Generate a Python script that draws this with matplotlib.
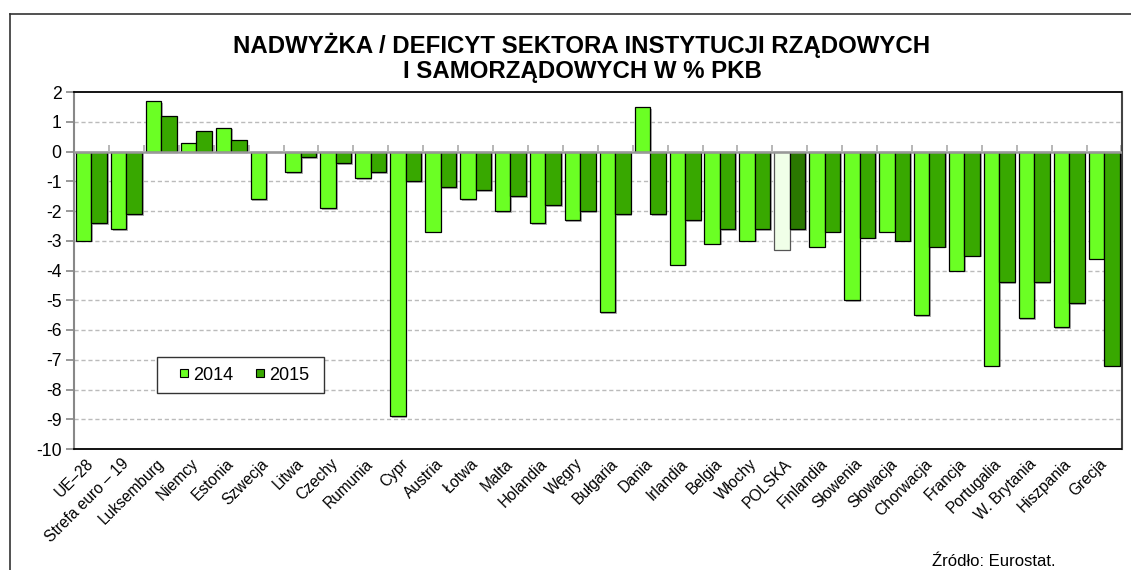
import matplotlib
matplotlib.use("Agg")
import matplotlib.pyplot as plt
import matplotlib.patheffects as pe
import numpy as np
from matplotlib.patches import Patch, Rectangle
from matplotlib.lines import Line2D
from matplotlib.legend_handler import HandlerPatch

plt.rcParams['font.family'] = ['Liberation Sans', 'DejaVu Sans']

countries = ["UE–28", "Strefa euro – 19", "Luksemburg", "Niemcy", "Estonia", "Szwecja",
             "Litwa", "Czechy", "Rumunia", "Cypr", "Austria", "Łotwa", "Malta", "Holandia",
             "Węgry", "Bułgaria", "Dania", "Irlandia", "Belgia", "Włochy", "POLSKA",
             "Finlandia", "Słowenia", "Słowacja", "Chorwacja", "Francja", "Portugalia",
             "W. Brytania", "Hiszpania", "Grecja"]
v2014 = [-3.0, -2.6, 1.7, 0.3, 0.8, -1.6, -0.7, -1.9, -0.9, -8.9, -2.7, -1.6, -2.0, -2.4,
         -2.3, -5.4, 1.5, -3.8, -3.1, -3.0, -3.3, -3.2, -5.0, -2.7, -5.5, -4.0, -7.2,
         -5.6, -5.9, -3.6]
v2015 = [-2.4, -2.1, 1.2, 0.7, 0.4, 0.0, -0.2, -0.4, -0.7, -1.0, -1.2, -1.3, -1.5, -1.8,
         -2.0, -2.1, -2.1, -2.3, -2.6, -2.6, -2.6, -2.7, -2.9, -3.0, -3.2, -3.5, -4.4,
         -4.4, -5.1, -7.2]
years = ["2014", "2015"]
y_ticks = list(range(2, -11, -1))

c14, c15 = "#6BFF24", "#38A800"
c14_pl, c15_pl = "#F0FFE8", "#2A7800"

W, H = 1131, 570
fig = plt.figure(figsize=(W / 100, H / 100), dpi=100)
ax = fig.add_axes([74 / W, 1 - 449 / H, (1121.5 - 74) / W, (449 - 92) / H])

x = np.arange(len(countries))
w = 0.445
cols14 = [c14_pl if c == "POLSKA" else c14 for c in countries]
cols15 = [c15_pl if c == "POLSKA" else c15 for c in countries]
edge14 = ["#555555" if c == "POLSKA" else "black" for c in countries]

shadow = [pe.SimplePatchShadow(offset=(1.2, -1.2), shadow_rgbFace="#909090", alpha=0.7),
          pe.Normal()]
b1 = ax.bar(x - w / 2, v2014, w, color=cols14, edgecolor=edge14, linewidth=0.9, zorder=3)
b2 = ax.bar(x + w / 2, v2015, w, color=cols15, edgecolor="black", linewidth=0.9, zorder=3)
for bars in (b1, b2):
    for p in bars:
        p.set_path_effects(shadow)

ax.set_xlim(-0.5, len(countries) - 0.5)
ax.set_ylim(-10, 2)
ax.set_yticks(y_ticks)
ax.set_yticklabels([str(t) for t in y_ticks], fontsize=12.7)
ax.tick_params(axis="y", direction="out", length=6, width=1.2, color="#888888", pad=3)

ax.set_xticks(x)
ax.set_xticklabels(countries, rotation=45, ha="right", va="center",
                   rotation_mode="anchor", fontsize=11.2)
ax.tick_params(axis="x", length=0, pad=9)

# grid
for t in y_ticks[1:-1]:
    if t != 0:
        ax.axhline(t, color="#BBBBBB", lw=1.0, ls=(0, (3, 2)), zorder=1)
ax.axhline(0, color="#999999", lw=1.8, zorder=4)

# category separators on the zero line
sec = ax.secondary_xaxis(10 / 12)
sec.set_xticks(np.arange(len(countries) + 1) - 0.5)
sec.set_xticklabels([])
sec.tick_params(axis="x", direction="out", length=4, width=1.2, color="#AAAAAA")
sec.spines["bottom"].set_visible(False)
sec.spines["top"].set_visible(False)

for s in ["top", "bottom"]:
    ax.spines[s].set_color("black")
    ax.spines[s].set_linewidth(1.3)
ax.spines["right"].set_color("#444444")
ax.spines["right"].set_linewidth(1.5)
ax.spines["left"].set_color("#888888")
ax.spines["left"].set_linewidth(1.5)


class SmallSquare(HandlerPatch):
    def create_artists(self, legend, orig_handle, xdescent, ydescent, width, height,
                       fontsize, trans):
        s = 8.0 * 72 / 100
        r = Rectangle((width - s - xdescent, (height - s) / 2 - ydescent), s, s,
                      facecolor=orig_handle.get_facecolor(), edgecolor="black", lw=0.8)
        r.set_transform(trans)
        return [r]


handles = [Patch(facecolor=c14), Patch(facecolor=c15)]
leg = fig.legend(handles, years, loc="center left",
                 bbox_to_anchor=(165 / W, 1 - 375 / H),
                 ncol=2, fontsize=13, frameon=False,
                 handler_map={Patch: SmallSquare()},
                 handlelength=1.25, handleheight=0.7, handletextpad=0.28,
                 columnspacing=0.5, borderpad=0.0, borderaxespad=0)
leg.set_zorder(6)
fig.add_artist(Rectangle((157 / W, 1 - 393 / H), (324 - 157) / W, 36 / H,
                         transform=fig.transFigure, facecolor="white",
                         edgecolor="#333333", lw=1.0, zorder=5))

fig.text(582 / W, 1 - 57.5 / H,
         "NADWYŻKA / DEFICYT SEKTORA INSTYTUCJI RZĄDOWYCH\nI SAMORZĄDOWYCH W % PKB",
         ha="center", va="center", fontsize=17.3, fontweight="bold", linespacing=1.1)
fig.text(932 / W, 1 - 562 / H, "Źródło: Eurostat.", ha="left", va="center",
         fontsize=12)

# outer frame
fig.add_artist(Line2D([9.5 / W, 9.5 / W], [0, 1 - 13.5 / H],
                      transform=fig.transFigure, color="#333333", lw=1.2))
fig.add_artist(Line2D([9.5 / W, 1], [1 - 13.5 / H, 1 - 13.5 / H],
                      transform=fig.transFigure, color="#333333", lw=1.2))

fig.savefig("out.png", dpi=100)
